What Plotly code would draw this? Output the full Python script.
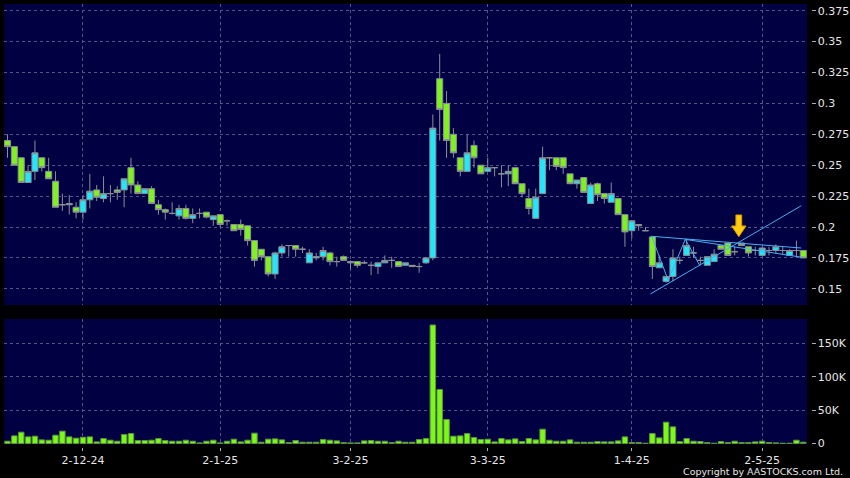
import plotly.graph_objects as go

# ---------------- data ----------------
nov24 = [15, 18, 19, 20, 21, 22, 25, 26, 27, 28, 29]
dec24 = [2, 3, 4, 5, 6, 9, 10, 11, 12, 13, 16, 17, 18, 19, 20, 23, 24, 27, 30, 31]
jan25 = [2, 3, 6, 7, 8, 9, 10, 13, 14, 15, 16, 17, 20, 21, 22, 23, 24, 27, 28]
feb25 = [3, 4, 5, 6, 7, 10, 11, 12, 13, 14, 17, 18, 19, 20, 21, 24, 25, 26, 27, 28]
mar25 = [3, 4, 5, 6, 7, 10, 11, 12, 13, 14, 17, 18, 19, 20, 21, 24, 25, 26, 27, 28, 31]
apr25 = [1, 2, 3, 7, 8, 9, 10, 11, 14, 15, 16, 17, 22, 23, 24, 25, 28, 29, 30]
may25 = [2, 6, 7, 8, 9, 12, 13]

dates = ([f"2024-11-{d:02d}" for d in nov24] + [f"2024-12-{d:02d}" for d in dec24] +
         [f"2025-01-{d:02d}" for d in jan25] + [f"2025-02-{d:02d}" for d in feb25] +
         [f"2025-03-{d:02d}" for d in mar25] + [f"2025-04-{d:02d}" for d in apr25] +
         [f"2025-05-{d:02d}" for d in may25])

opens = [0.270, 0.265, 0.256, 0.236, 0.245, 0.256, 0.245, 0.237, 0.218, 0.219,
         0.216, 0.212, 0.222, 0.230, 0.223, 0.227, 0.230, 0.230, 0.248, 0.234,
         0.227, 0.231, 0.218, 0.214, 0.211, 0.209, 0.215, 0.207, 0.211, 0.212,
         0.206, 0.210, 0.205, 0.202, 0.202, 0.201, 0.189, 0.182, 0.176, 0.162,
         0.179, 0.185, 0.185, 0.182, 0.171, 0.175, 0.176, 0.179, 0.172, 0.176,
         0.171, 0.172, 0.171, 0.169, 0.168, 0.171, 0.173, 0.172, 0.169, 0.169,
         0.168, 0.171, 0.175, 0.320, 0.300, 0.275, 0.256, 0.245, 0.266, 0.250,
         0.245, 0.248, 0.243, 0.243, 0.248, 0.235, 0.223, 0.207, 0.227, 0.256,
         0.256, 0.256, 0.243, 0.235, 0.240, 0.219, 0.235, 0.227, 0.220, 0.223,
         0.210, 0.197, 0.202, 0.197, 0.192, 0.167, 0.156, 0.160, 0.173, 0.177,
         0.179, 0.173, 0.169, 0.172, 0.185, 0.187, 0.180, 0.187, 0.184, 0.181,
         0.177, 0.181, 0.181, 0.181, 0.177, 0.181, 0.181]
highs = [0.275, 0.265, 0.256, 0.250, 0.270, 0.256, 0.256, 0.245, 0.227, 0.226,
         0.220, 0.226, 0.243, 0.234, 0.241, 0.234, 0.233, 0.239, 0.256, 0.237,
         0.231, 0.233, 0.222, 0.215, 0.220, 0.218, 0.218, 0.215, 0.215, 0.212,
         0.209, 0.210, 0.206, 0.202, 0.206, 0.201, 0.189, 0.182, 0.176, 0.180,
         0.186, 0.185, 0.185, 0.184, 0.182, 0.179, 0.184, 0.180, 0.176, 0.177,
         0.173, 0.172, 0.173, 0.172, 0.171, 0.177, 0.176, 0.172, 0.171, 0.169,
         0.171, 0.175, 0.291, 0.340, 0.310, 0.280, 0.256, 0.275, 0.270, 0.250,
         0.256, 0.248, 0.250, 0.250, 0.248, 0.235, 0.231, 0.231, 0.265, 0.256,
         0.256, 0.256, 0.243, 0.238, 0.240, 0.236, 0.236, 0.227, 0.236, 0.223,
         0.210, 0.205, 0.202, 0.200, 0.192, 0.177, 0.160, 0.182, 0.176, 0.190,
         0.184, 0.176, 0.176, 0.182, 0.185, 0.187, 0.184, 0.187, 0.184, 0.184,
         0.184, 0.184, 0.186, 0.184, 0.182, 0.189, 0.181]
lows = [0.256, 0.250, 0.236, 0.236, 0.238, 0.245, 0.239, 0.216, 0.213, 0.210,
        0.207, 0.206, 0.215, 0.221, 0.220, 0.220, 0.222, 0.216, 0.227, 0.227,
        0.227, 0.219, 0.210, 0.206, 0.210, 0.206, 0.206, 0.203, 0.207, 0.207,
        0.201, 0.200, 0.201, 0.197, 0.193, 0.185, 0.168, 0.173, 0.160, 0.158,
        0.176, 0.176, 0.176, 0.179, 0.171, 0.173, 0.173, 0.169, 0.168, 0.174,
        0.166, 0.167, 0.170, 0.161, 0.162, 0.171, 0.167, 0.168, 0.169, 0.168,
        0.163, 0.170, 0.173, 0.270, 0.256, 0.256, 0.241, 0.245, 0.248, 0.243,
        0.245, 0.241, 0.232, 0.233, 0.235, 0.224, 0.210, 0.207, 0.227, 0.246,
        0.246, 0.243, 0.235, 0.231, 0.228, 0.219, 0.221, 0.219, 0.220, 0.210,
        0.184, 0.191, 0.197, 0.197, 0.158, 0.167, 0.155, 0.156, 0.170, 0.177,
        0.175, 0.169, 0.169, 0.172, 0.182, 0.177, 0.177, 0.185, 0.176, 0.177,
        0.177, 0.177, 0.179, 0.178, 0.177, 0.176, 0.175]
closes = [0.265, 0.250, 0.236, 0.245, 0.260, 0.248, 0.239, 0.216, 0.218, 0.218,
          0.212, 0.222, 0.229, 0.224, 0.227, 0.227, 0.228, 0.239, 0.234, 0.227,
          0.231, 0.219, 0.214, 0.212, 0.211, 0.215, 0.207, 0.210, 0.211, 0.208,
          0.209, 0.202, 0.205, 0.197, 0.198, 0.189, 0.173, 0.176, 0.162, 0.179,
          0.184, 0.185, 0.182, 0.182, 0.179, 0.176, 0.181, 0.172, 0.172, 0.173,
          0.172, 0.169, 0.171, 0.169, 0.171, 0.173, 0.173, 0.168, 0.171, 0.168,
          0.168, 0.175, 0.280, 0.295, 0.270, 0.260, 0.245, 0.260, 0.256, 0.243,
          0.248, 0.248, 0.243, 0.245, 0.235, 0.227, 0.215, 0.224, 0.256, 0.256,
          0.249, 0.248, 0.235, 0.238, 0.228, 0.234, 0.226, 0.223, 0.227, 0.210,
          0.196, 0.205, 0.201, 0.197, 0.168, 0.171, 0.160, 0.175, 0.173, 0.185,
          0.179, 0.173, 0.176, 0.178, 0.182, 0.177, 0.180, 0.185, 0.179, 0.181,
          0.183, 0.181, 0.184, 0.181, 0.181, 0.181, 0.175]
volume_k = [3.5, 11.5, 17, 10, 11, 5.5, 5, 12.5, 18.5, 10,
            8, 9.5, 10, 2.5, 7.5, 5, 3.5, 13.5, 15, 4.5,
            4.5, 5, 7.5, 4.5, 3.5, 3.5, 5, 3.5, 1, 3.5,
            5, 1, 3.5, 6.5, 2.5, 5, 15.5, 2, 6.5, 7,
            5.5, 1.5, 4.5, 2, 2, 2, 6, 5, 4, 1.5,
            1, 1, 4, 4.5, 3.5, 3.5, 1.5, 3.5, 2, 2,
            6, 7.5, 177.5, 81, 36, 11, 11.5, 15, 9, 6,
            6.5, 2.5, 7.5, 5.5, 7, 3, 7.5, 5.5, 21.5, 5,
            3.5, 3.5, 5.5, 2, 2, 2, 3, 2.5, 2.5, 4,
            10, 1.5, 1.5, 0.5, 15, 8.5, 32, 25, 3, 7.5,
            3.5, 3, 1.5, 0.5, 3, 1.5, 3.5, 1.5, 1.5, 2.5,
            3.5, 1.5, 1, 0.5, 0.5, 5, 2]

tick_dates = ["2024-12-02", "2025-01-02", "2025-02-03", "2025-03-03", "2025-04-01", "2025-05-02"]
tick_labels = ["2-12-24", "2-1-25", "3-2-25", "3-3-25", "1-4-25", "2-5-25"]
price_ticks = [0.15, 0.175, 0.2, 0.225, 0.25, 0.275, 0.3, 0.325, 0.35, 0.375]
price_labels = ["0.15", "0.175", "0.2", "0.225", "0.25", "0.275", "0.3", "0.325", "0.35", "0.375"]
vol_ticks = [0, 50000, 100000, 150000]
vol_labels = ["0", "50K", "100K", "150K"]

# hand-drawn triangle annotation (trading-day index, price)
trend_segments = [
    ((93.8, 0.1925), (115.7, 0.1830)),   # upper falling line
    ((93.7, 0.1458), (115.7, 0.2172)),   # rising support line
    ((93.9, 0.1925), (96.3, 0.1570)),    # zig-zag
    ((96.3, 0.1570), (98.8, 0.1900)),
    ((98.8, 0.1900), (100.9, 0.1690)),
    ((98.8, 0.1900), (115.8, 0.1755)),   # lower falling line
]
arrow_pos = 106.6
arrow_top, arrow_neck, arrow_tip = 0.2097, 0.2008, 0.1922

# ---------------- figure ----------------
idx = {d: i for i, d in enumerate(dates)}
xs = [idx[d] for d in dates]
volume = [v * 1000 for v in volume_k]

GREEN = "#80f020"
CYAN = "#22e6fa"
EDGE = "#8a8f94"
GRID = "#55558a"
TXT = "#e6e6e6"
FONT = "DejaVu Sans"

fig = go.Figure()
fig.add_trace(go.Candlestick(
    x=xs, open=opens, high=highs, low=lows, close=closes,
    increasing=dict(fillcolor=CYAN, line=dict(color=EDGE, width=1)),
    decreasing=dict(fillcolor=GREEN, line=dict(color=EDGE, width=1)),
    whiskerwidth=0, xaxis="x", yaxis="y", showlegend=False, hoverinfo="skip"))
fig.add_trace(go.Bar(
    x=xs, y=volume, marker=dict(color="#7cf818", line=dict(color="#5a9040", width=1)),
    xaxis="x2", yaxis="y2", showlegend=False, hoverinfo="skip"))

shapes = []
for (x0, y0), (x1, y1) in trend_segments:
    shapes.append(dict(type="line", xref="x", yref="y", x0=x0, y0=y0, x1=x1, y1=y1,
                       line=dict(color="#4aaef0", width=1)))
sw, hw = 0.42, 1.05
pts = [(arrow_pos - sw, arrow_top), (arrow_pos + sw, arrow_top), (arrow_pos + sw, arrow_neck),
       (arrow_pos + hw, arrow_neck), (arrow_pos, arrow_tip), (arrow_pos - hw, arrow_neck),
       (arrow_pos - sw, arrow_neck)]
path = "M " + " L ".join(f"{x},{y}" for x, y in pts) + " Z"
shapes.append(dict(type="path", xref="x", yref="y", path=path,
                   fillcolor="#ffcc10", line=dict(color="#e89a00", width=1)))

W, H = 850, 478
ML, MR, MT, MB = 4, 34, 4, 28
PW, PH = W - ML - MR, H - MT - MB
XD = (807 - ML) / PW
ypos = (810.5 - ML) / PW

def fy(py):  # pixel y -> paper fraction
    return (H - MB - py) / PH

xrange_ = [-0.51, len(dates) - 1 + 0.54]
tickpos = [idx[d] for d in tick_dates]

common_x = dict(type="linear", domain=[0, XD], range=xrange_, showgrid=True, gridcolor=GRID,
                griddash="3px,3px", gridwidth=1, zeroline=False, showline=False,
                tickvals=tickpos, fixedrange=True)
common_y = dict(side="right", anchor="free", position=ypos, showgrid=True, gridcolor=GRID,
                griddash="3px,3px", gridwidth=1, zeroline=False, showline=False,
                ticks="outside", ticklen=4, tickcolor="#b0b0b0", tickwidth=1,
                tickfont=dict(family=FONT, size=11, color=TXT), fixedrange=True)

fig.update_layout(
    width=W, height=H, margin=dict(l=ML, r=MR, t=MT, b=MB, autoexpand=False),
    paper_bgcolor="black", plot_bgcolor="#000042",
    showlegend=False, boxgap=0.06, boxgroupgap=0.06, bargap=0.2,
    hovermode=False, dragmode=False,
    shapes=shapes,
    xaxis=dict(common_x, anchor="y", showticklabels=False, ticks="",
               rangeslider=dict(visible=False)),
    xaxis2=dict(common_x, anchor="free", position=fy(446.5), matches="x",
                ticktext=tick_labels, ticks="outside", ticklen=3, tickcolor="#b0b0b0",
                tickfont=dict(family=FONT, size=11, color=TXT)),
    yaxis=dict(common_y, domain=[fy(305), 1], range=[0.1369, 0.3804],
               tickvals=price_ticks, ticktext=price_labels),
    yaxis2=dict(common_y, domain=[fy(444), fy(319)], range=[-700, 186500],
                tickvals=vol_ticks, ticktext=vol_labels),
    annotations=[dict(text="Copyright by AASTOCKS.com Ltd.", xref="paper", yref="paper",
                      x=(845 - ML) / PW, y=fy(471), xanchor="right", yanchor="middle",
                      showarrow=False, font=dict(family=FONT, size=9.5, color=TXT))],
)

fig.write_html("out.html", config={"displayModeBar": False, "staticPlot": True},
               post_script="document.body.style.margin='0';document.body.style.overflow='hidden';")
